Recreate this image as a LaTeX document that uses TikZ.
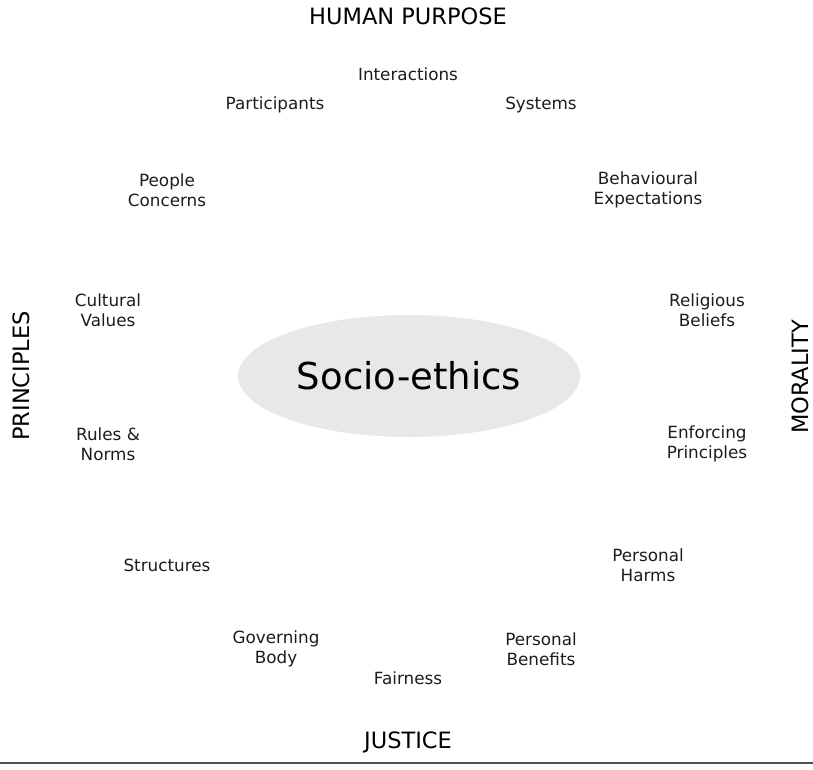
\documentclass[tikz,border=0pt]{standalone}
\usepackage{fontspec}
\setmainfont{DejaVu Sans}
\usetikzlibrary{
	positioning,
	shapes.geometric
}
\definecolor{hubgrey}{HTML}{E8E8E8}
\definecolor{inkgrey}{HTML}{1C1C1C}
\definecolor{rulegrey}{HTML}{505050}
\tikzset{
	x=1pt,
	y=-1pt,
	aspect/.style={
		font=\fontsize{22.5}{26}\selectfont,
		text=black,
		inner sep=0pt
	},
	facet/.style={
		font=\fontsize{16.8}{20}\selectfont,
		text=inkgrey,
		align=center,
		inner sep=0pt
	},
	hub/.style={
		ellipse,
		fill=hubgrey,
		minimum width=342pt,
		minimum height=122pt,
		inner sep=0pt,
		font=\fontsize{37}{40}\selectfont
	}
}

\begin{document}
\begin{tikzpicture}
	\useasboundingbox (0,0) rectangle (813,770);

	% centre
	\node [hub] (hub) at (409,376) {Socio-ethics};

	% the four aspects
	\node [aspect]           (purpose)    at (408,16)  {HUMAN PURPOSE};
	\node [aspect]           (justice)    at (408,742) {JUSTICE};
	\node [aspect,rotate=90] (principles) at (21,376)  {PRINCIPLES};
	\node [aspect,rotate=90] (morality)   at (800,377) {MORALITY};

	% facets, clockwise from the top
	\node [facet] (interact)  at (408,74)  {Interactions};
	\node [facet] (systems)   at (541,105) {Systems};
	\node [facet] (behave)    at (648,190) {Behavioural\\Expectations};
	\node [facet] (religion)  at (707,310) {Religious\\Beliefs};
	\node [facet] (enforce)   at (707,444) {Enforcing\\Principles};
	\node [facet] (harms)     at (648,565) {Personal\\Harms};
	\node [facet] (benefits)  at (541,649) {Personal\\Benefits};
	\node [facet] (fairness)  at (408,678) {Fairness};
	\node [facet] (governing) at (276,649) {Governing\\Body};
	\node [facet] (structure) at (167,565) {Structures};
	\node [facet] (rules)     at (108,444) {Rules \&\\Norms};
	\node [facet] (culture)   at (108,310) {Cultural\\Values};
	\node [facet] (people)    at (167,190) {People\\Concerns};
	\node [facet] (partic)    at (275,105) {Participants};

	% rule along the foot
	\coordinate (foot west) at (0,763);
	\coordinate (foot east) at (813,763);
	\draw [rulegrey,line width=2pt] (foot west) -- (foot east);
\end{tikzpicture}
\end{document}
